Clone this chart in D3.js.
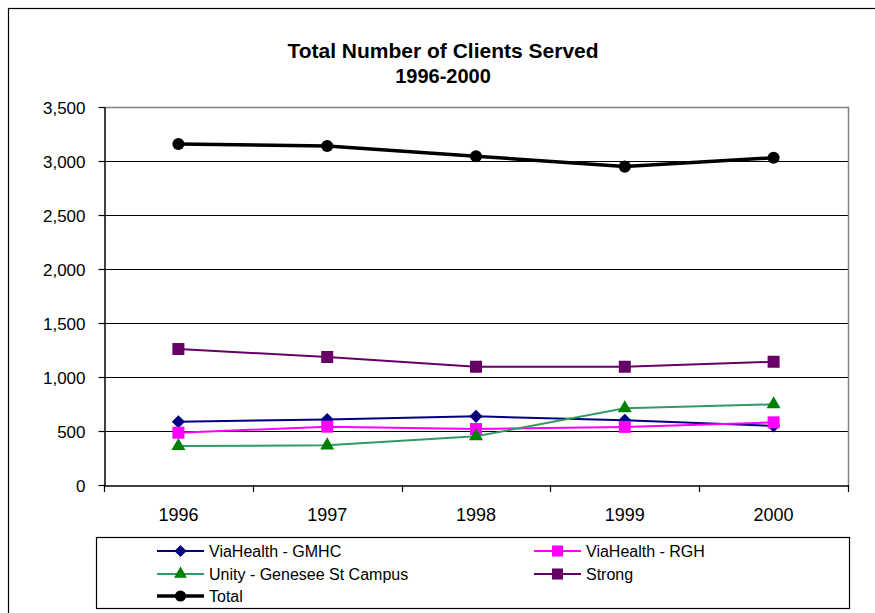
<!DOCTYPE html>
<html><head><meta charset="utf-8">
<script src="https://cdn.jsdelivr.net/npm/d3@7"></script>
<style>body{margin:0;background:#fff}svg{display:block;font-family:"Liberation Sans",Arial,sans-serif}</style>
</head><body><svg id="c" width="875" height="613"></svg>
<script>
const years = ["1996","1997","1998","1999","2000"];
const gmhc = [586, 606, 636, 600, 548];
const rgh = [484, 540, 518, 538, 580];
const unity = [361, 367, 451, 710, 747];
const strong = [1259, 1185, 1095, 1095, 1141];
const total = [3157, 3139, 3044, 2948, 3030];
const yTicks = [0, 500, 1000, 1500, 2000, 2500, 3000, 3500];

const series = [
  {name:"ViaHealth - GMHC", values:gmhc, line:"#000080", fill:"#000080", sym:"diamond", w:2},
  {name:"ViaHealth - RGH", values:rgh, line:"#FF00FF", fill:"#FF00FF", sym:"square", w:2},
  {name:"Unity - Genesee St Campus", values:unity, line:"#339966", fill:"#008000", sym:"triangle", w:2},
  {name:"Strong", values:strong, line:"#660066", fill:"#660066", sym:"square", w:2},
  {name:"Total", values:total, line:"#000000", fill:"#000000", sym:"circle", w:3.5}
];

const svg = d3.select("#c");
svg.append("rect").attr("x",8.5).attr("y",8.5).attr("width",880).attr("height",620).attr("fill","none").attr("stroke","#000").attr("stroke-width",1.2);

const L=104, R=848, T=107, B=485;
const x = d3.scaleBand().domain(years).range([L,R]);
const y = d3.scaleLinear().domain([0,3500]).range([B,T]);

svg.append("text").attr("x",443).attr("y",58).attr("text-anchor","middle").attr("font-size",21).attr("font-weight","bold").text("Total Number of Clients Served");
svg.append("text").attr("x",443).attr("y",83).attr("text-anchor","middle").attr("font-size",20).attr("font-weight","bold").text("1996-2000");

// gridlines
svg.append("g").selectAll("line").data(yTicks.filter(d=>d>0&&d<3500)).join("line")
  .attr("x1",L).attr("x2",R).attr("y1",d=>Math.round(y(d))+0.5).attr("y2",d=>Math.round(y(d))+0.5).attr("stroke","#000").attr("stroke-width",1);
// plot border top/right gray
svg.append("path").attr("d",`M${L},${T+0.5}H${R+0.5}V${B}`).attr("fill","none").attr("stroke","#808080").attr("stroke-width",1.5);

// y axis
const ya = svg.append("g").attr("transform",`translate(${L+0.5},0)`)
  .call(d3.axisLeft(y).tickValues(yTicks).tickFormat(d3.format(",")).tickSize(6).tickSizeOuter(0));
ya.select(".domain").attr("stroke","#000").attr("stroke-width",1.5);
ya.selectAll("line").attr("stroke","#000").attr("stroke-width",1.2);
ya.selectAll("text").attr("font-size",17).attr("fill","#000").attr("x",-19).attr("dy","0.36em").attr("font-family","Liberation Sans, Arial");
// x axis
const xa = svg.append("g").attr("transform",`translate(0,${B+0.5})`)
  .call(d3.axisBottom(x).tickSize(0).tickSizeOuter(0));
xa.select(".domain").attr("stroke","#000").attr("stroke-width",1.5);
xa.selectAll("text").attr("font-size",18).attr("fill","#000").attr("y",35).attr("dy",0).attr("font-family","Liberation Sans, Arial");
// x ticks at band boundaries
const bounds = years.map(d=>x(d)).concat([R]);
svg.append("g").selectAll("line").data(bounds).join("line")
  .attr("x1",d=>Math.round(d)+0.5).attr("x2",d=>Math.round(d)+0.5).attr("y1",B).attr("y2",B+7).attr("stroke","#000").attr("stroke-width",1.2);

const cx = d=>x(d)+x.bandwidth()/2;
const symType = {diamond:d3.symbolDiamond2, square:d3.symbolSquare, triangle:d3.symbolTriangle, circle:d3.symbolCircle};
const symSize = {diamond:110, square:144, triangle:85, circle:115};
const line = d3.line().x((d,i)=>cx(years[i])).y(d=>y(d));

series.forEach(s=>{
  const g = svg.append("g");
  g.append("path").attr("d",line(s.values)).attr("fill","none").attr("stroke",s.line).attr("stroke-width",s.w);
  g.selectAll("path.m").data(s.values).join("path").attr("class","m")
    .attr("transform",(d,i)=>`translate(${cx(years[i])},${y(d)})`)
    .attr("d",d3.symbol().type(symType[s.sym]).size(symSize[s.sym])).attr("fill",s.fill);
});

// legend
svg.append("rect").attr("x",96.5).attr("y",537.5).attr("width",753).attr("height",71).attr("fill","#fff").attr("stroke","#000").attr("stroke-width",1.2);
const pos = [[157,551],[534,551],[157,574],[534,574],[157,596]];
series.forEach((s,i)=>{
  const [lx,ly]=pos[i];
  const g = svg.append("g").attr("transform",`translate(${lx},${ly})`);
  g.append("line").attr("x1",0).attr("x2",47).attr("y1",0).attr("y2",0).attr("stroke",s.line).attr("stroke-width",s.w);
  g.append("path").attr("transform","translate(23.5,0)").attr("d",d3.symbol().type(symType[s.sym]).size(symSize[s.sym]*0.85)).attr("fill",s.fill);
  g.append("text").attr("x",52).attr("y",6).attr("font-size",16).text(s.name);
});
</script>
</body></html>
